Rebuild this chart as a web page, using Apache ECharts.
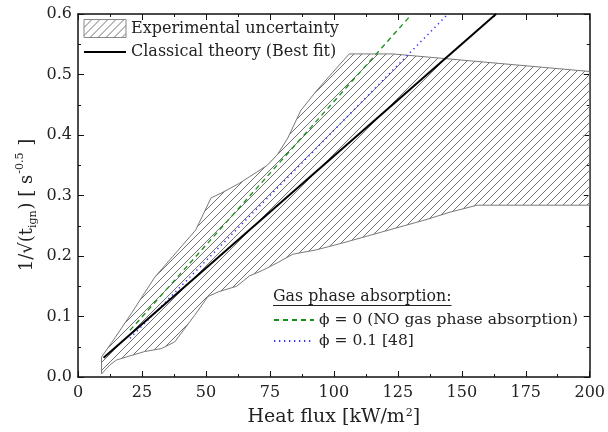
<!DOCTYPE html>
<html><head><meta charset="utf-8">
<script src="https://cdn.jsdelivr.net/npm/echarts@6/dist/echarts.min.js"></script>
<style>html,body{margin:0;padding:0;background:#fff}#c{width:608px;height:432px}</style>
</head><body><div id="c"></div>
<script>
// ---- data ----
const upperX = [9.2, 14, 21, 30, 46, 52, 56, 63, 74, 78, 82, 87, 93, 98, 106, 123, 200];
const upperY = [0.033, 0.062, 0.106, 0.165, 0.243, 0.296, 0.304, 0.320, 0.350, 0.368, 0.395, 0.440, 0.472, 0.496, 0.534, 0.534, 0.505];
const lowerX = [9.2, 12.5, 15, 19.6, 26, 32.6, 37.8, 45.6, 50.8, 55, 62, 67, 72, 78, 84, 93, 103, 119, 136, 145, 156, 200];
const lowerY = [0.005, 0.020, 0.028, 0.034, 0.042, 0.047, 0.058, 0.102, 0.133, 0.141, 0.150, 0.167, 0.176, 0.189, 0.203, 0.210, 0.221, 0.240, 0.260, 0.272, 0.284, 0.284];
const classicalX = [10, 163.4];
const classicalY = [0.032, 0.6];
const phi0X = [20.3, 130.5];
const phi0Y = [0.077, 0.6];
const phi01X = [20.3, 144.6];
const phi01Y = [0.064, 0.6];
const xTickLabels = ['0', '25', '50', '75', '100', '125', '150', '175', '200'];
const yTickLabels = ['0.0', '0.1', '0.2', '0.3', '0.4', '0.5', '0.6'];
const names = {
  band: 'Experimental uncertainty',
  classical: 'Classical theory (Best fit)',
  phi0: 'ϕ = 0 (NO gas phase absorption)',
  phi01: 'ϕ = 0.1 [48]'
};
const gasTitle = 'Gas phase absorption:';

// ---- helpers ----
const FONT = '"DejaVu Serif", "Liberation Serif", serif';
function hatchPattern(p, color) {
  const c = document.createElement('canvas');
  c.width = p; c.height = p;
  const g = c.getContext('2d');
  g.fillStyle = color;
  for (let i = 0; i < p; i++) g.fillRect(i, p - 1 - i, 1, 1);
  return { image: c, repeat: 'repeat' };
}
const pattern = hatchPattern(8, '#727272');
const polyX = upperX.concat(lowerX.slice().reverse());
const polyY = upperY.concat(lowerY.slice().reverse());
const zip = (a, b) => a.map((v, i) => [v, b[i]]);

const mctx = document.createElement('canvas').getContext('2d');
mctx.font = '15.8px ' + FONT;
const gasW = mctx.measureText(gasTitle).width;

const axisCommon = {
  type: 'value',
  axisLine: { show: true, onZero: false, lineStyle: { color: '#111', width: 1.5 } },
  axisTick: { show: true, inside: true, length: 6, lineStyle: { color: '#111', width: 1 } },
  minorTick: { show: true, splitNumber: 2, length: 3, lineStyle: { color: '#111', width: 1 } },
  splitLine: { show: false },
  minorSplitLine: { show: false }
};

const chart = echarts.init(document.getElementById('c'), null, { renderer: 'canvas' });
chart.setOption({
  animation: false,
  backgroundColor: '#fff',
  grid: { left: 78, right: 15, top: 14, bottom: 55 },
  xAxis: [
    Object.assign({}, axisCommon, {
      position: 'bottom', min: 0, max: 200, interval: 25,
      axisLabel: { fontSize: 16, fontFamily: FONT, color: '#222', margin: 8,
        formatter: (v) => xTickLabels[Math.round(v / 25)] },
      name: 'Heat flux [kW/m{s|2}]', nameLocation: 'middle', nameGap: 31,
      nameTextStyle: { fontSize: 19, fontFamily: FONT, color: '#222',
        rich: { s: { fontSize: 11, fontFamily: FONT, color: '#222', verticalAlign: 'top', lineHeight: 10, padding: [0, 0, 0, 1] } } }
    }),
    Object.assign({}, axisCommon, {
      position: 'top', min: 0, max: 200, interval: 25, axisLabel: { show: false }
    })
  ],
  yAxis: [
    Object.assign({}, axisCommon, {
      position: 'left', min: 0, max: 0.6, interval: 0.1,
      axisLabel: { fontSize: 16, fontFamily: FONT, color: '#222', margin: 6,
        formatter: (v) => yTickLabels[Math.round(v * 10)] }
    }),
    Object.assign({}, axisCommon, {
      position: 'right', min: 0, max: 0.6, interval: 0.1, axisLabel: { show: false }
    })
  ],
  legend: [
    {
      left: 83, top: 19, padding: 0, orient: 'vertical', itemWidth: 42, itemHeight: 18, itemGap: 6,
      selectedMode: false,
      textStyle: { fontSize: 16, fontFamily: FONT, color: '#222' },
      data: [
        { name: names.band, icon: 'rect', itemStyle: { color: pattern, borderColor: '#888', borderWidth: 1 } },
        { name: names.classical, itemStyle: { opacity: 0 } }
      ]
    },
    {
      left: 273, top: 312, padding: 0, orient: 'vertical', itemWidth: 40, itemHeight: 18, itemGap: 5,
      selectedMode: false, itemStyle: { opacity: 0 },
      textStyle: { fontSize: 15.5, fontFamily: FONT, color: '#222' },
      data: [{ name: names.phi0 }, { name: names.phi01 }]
    }
  ],
  graphic: [
    {
      type: 'text', left: 273, top: 289,
      style: { text: gasTitle, font: '15.8px ' + FONT, fill: '#222' }
    },
    {
      type: 'line', shape: { x1: 273, y1: 305.5, x2: 273 + gasW, y2: 305.5 },
      style: { stroke: '#222', lineWidth: 1 }
    },
    {
      type: 'text', x: 27, y: 205, rotation: Math.PI / 2,
      style: {
        text: '{n|1/√(t}{b|ign}{n|) [ s}{p|-0.5}{n| ]}',
        align: 'center', verticalAlign: 'middle',
        rich: {
          n: { fontSize: 18, fontFamily: FONT, fill: '#222', lineHeight: 24, verticalAlign: 'middle' },
          b: { fontSize: 11, fontFamily: FONT, fill: '#222', lineHeight: 11, verticalAlign: 'bottom', padding: [0, 1, 0, 0] },
          p: { fontSize: 11, fontFamily: FONT, fill: '#222', lineHeight: 11, verticalAlign: 'top', padding: [0, 1, 0, 1] }
        }
      }
    }
  ],
  series: [
    {
      name: names.band, type: 'custom', clip: true, z: 1,
      itemStyle: { color: pattern, borderColor: '#888', borderWidth: 1 },
      data: zip(polyX, polyY),
      renderItem: function (params, api) {
        if (params.dataIndex !== 0) return null;
        const pts = polyX.map((x, i) => api.coord([x, polyY[i]]));
        return { type: 'polygon', shape: { points: pts },
          style: { fill: pattern, stroke: '#7a7a7a', lineWidth: 1 } };
      }
    },
    {
      name: names.classical, type: 'line', symbol: 'none', z: 5,
      data: zip(classicalX, classicalY),
      lineStyle: { color: '#000', width: 2 }, itemStyle: { color: '#000' }
    },
    {
      name: names.phi0, type: 'line', symbol: 'none', z: 4,
      data: zip(phi0X, phi0Y),
      lineStyle: { color: '#159015', width: 1.3, type: [5, 4] }, itemStyle: { color: '#159015' }
    },
    {
      name: names.phi01, type: 'line', symbol: 'none', z: 4,
      data: zip(phi01X, phi01Y),
      lineStyle: { color: '#3030ff', width: 1.5, type: [1.3, 3.7] }, itemStyle: { color: '#3030ff' }
    }
  ]
});
</script>
</body></html>
